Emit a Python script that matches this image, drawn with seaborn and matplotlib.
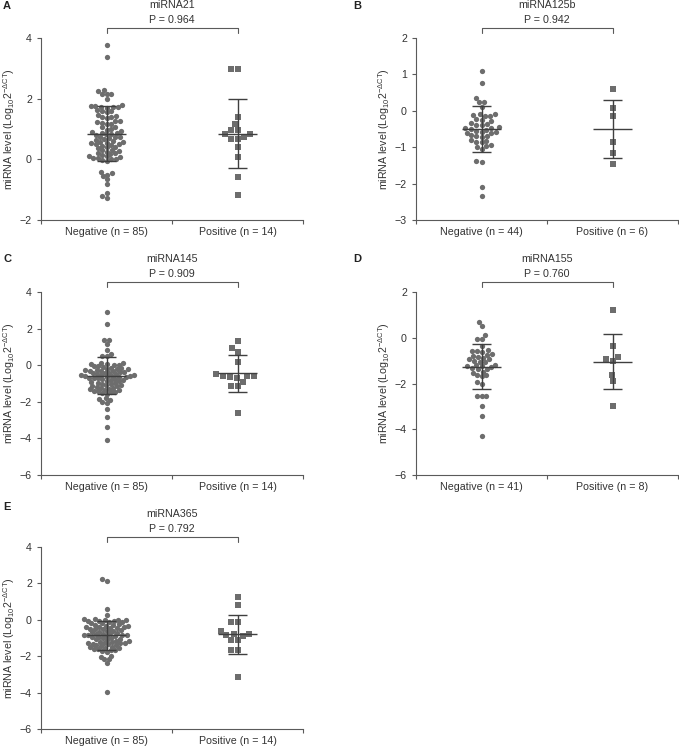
import numpy as np
import pandas as pd
import matplotlib
matplotlib.use("Agg")
import matplotlib.pyplot as plt
import matplotlib.transforms as mtransforms
import seaborn as sns

# ---- datos ----
paneles = ["A", "B", "C", "D", "E"]
titulos = ["miRNA21", "miRNA125b", "miRNA145", "miRNA155", "miRNA365"]
p_valores = ["P = 0.964", "P = 0.942", "P = 0.909", "P = 0.760", "P = 0.792"]
n_neg = [85, 44, 85, 41, 85]
n_pos = [14, 6, 14, 8, 14]
y_limites = [(-2, 4), (-3, 2), (-6, 4), (-6, 2), (-6, 4)]
y_pasos = [2, 1, 2, 2, 2]

a_neg = [3.78, 3.38, 2.28, 2.15, 2.0, 2.15, 2.15, 2.25,
         -0.44, -0.55, -0.65, -0.5, -0.42, -0.82, -1.1, -1.28, -1.22,
         1.78, 1.75, 1.72, 1.70, 1.74, 1.76, 1.71,
         1.62, 1.58, 1.55, 1.60,
         1.42, 1.38, 1.35, 1.40, 1.45,
         1.25, 1.20, 1.18, 1.22, 1.15, 1.28,
         1.05, 1.00, 0.98, 1.08,
         0.90, 0.85, 0.82, 0.88, 0.80, 0.92, 0.86,
         0.72, 0.68, 0.70, 0.75, 0.65, 0.73,
         0.58, 0.55, 0.52, 0.50, 0.56, 0.60, 0.53,
         0.45, 0.42, 0.40, 0.47, 0.38,
         0.30, 0.28, 0.25, 0.32, 0.22,
         0.18, 0.15, 0.12, 0.20, 0.10,
         0.05, 0.02, -0.02, 0.00, 0.04, -0.05, 0.07]
a_pos = [2.97, 2.97, 1.38, 1.16, 0.98, 0.96, 0.85, 0.82, 0.74, 0.68, 0.68,
         0.40, 0.07, -0.58, -1.18]

b_neg = [1.1, 0.77, 0.35, 0.23, 0.25, 0.11, -1.4, -1.37, -2.09, -2.34,
         -0.12, -0.10, -0.15, -0.13, -0.08,
         -0.22, -0.25, -0.28,
         -0.33, -0.36, -0.38, -0.40,
         -0.45, -0.48, -0.50, -0.52, -0.47, -0.55,
         -0.58, -0.60, -0.62, -0.57,
         -0.68, -0.70, -0.72, -0.66,
         -0.80, -0.85, -0.82, -0.87,
         -0.95, -0.97, -1.00, -1.05]
b_pos = [0.6, 0.08, -0.15, -0.85, -1.15, -1.46]

c_neg = [2.89, 2.27, 1.38, 1.16, 1.36, 0.81, 0.61, 0.52, 0.52,
         -1.85, -2.03, -2.05, -1.9, -1.8, -2.41, -2.81, -3.38, -4.07,
         0.12, 0.10, 0.07, 0.05, 0.02, 0.0,
         -0.04, -0.07, -0.10, -0.13, -0.16,
         -0.19, -0.22, -0.25, -0.28, -0.31, -0.33,
         -0.36, -0.39, -0.42, -0.45, -0.48,
         -0.50, -0.53, -0.56, -0.58, -0.61, -0.63,
         -0.66, -0.69, -0.72, -0.75, -0.78,
         -0.80, -0.83, -0.86, -0.89, -0.92,
         -0.95, -0.98, -1.01, -1.04, -1.07,
         -1.10, -1.13, -1.16, -1.19, -1.22,
         -1.25, -1.28, -1.31, -1.34, -1.37,
         -1.40, -1.43, -1.46, -1.49, -1.52, -1.55,
         -0.60, -0.55, -0.65, -0.70, -0.40, -0.30, -0.20]
c_pos = [1.30, 0.92, 0.70, 0.19, -0.48, -0.57, -0.57, -0.61, -0.66, -0.68,
         -0.9, -1.12, -1.15, -2.61]

d_neg = [0.71, 0.53, 0.12, -0.04, -0.04, -0.38,
         -2.53, -2.53, -2.53, -2.97, -3.41, -4.31, -2.0, -1.95,
         -0.55, -0.60, -0.58, -0.62,
         -0.72, -0.75, -0.78,
         -0.88, -0.92, -0.95, -0.85,
         -1.02, -1.08, -1.05,
         -1.18, -1.22, -1.25, -1.20,
         -1.32, -1.35, -1.30, -1.38,
         -1.48, -1.52,
         -1.65, -1.68, -1.62]
d_pos = [1.2, -0.36, -0.83, -0.93, -1.0, -1.62, -1.91, -2.99]

e_neg = [2.23, 2.14, 0.62, 0.26,
         -1.99, -2.17, -2.37, -2.17, -2.02, -3.99,
         0.05, 0.03, 0.01, -0.01, -0.03, -0.05, -0.07, -0.09, -0.11,
         -0.14, -0.17, -0.20, -0.23, -0.26, -0.29, -0.32, -0.35,
         -0.38, -0.40, -0.42, -0.44, -0.46, -0.48, -0.50, -0.53,
         -0.56, -0.59, -0.62, -0.65, -0.68, -0.71, -0.74,
         -0.77, -0.80, -0.82, -0.84, -0.86, -0.88, -0.90, -0.93,
         -0.96, -0.99, -1.02, -1.05, -1.08, -1.11, -1.14,
         -1.17, -1.20, -1.23, -1.26, -1.28, -1.30, -1.32, -1.35,
         -1.38, -1.41, -1.44, -1.47, -1.50, -1.53, -1.56,
         -1.59, -1.62, -1.65, -1.68, -1.71, -1.75, -0.85, -1.25]
e_pos = [1.23, 0.81, -0.14, -0.14, -0.62, -0.76, -0.8, -0.84, -0.89,
         -1.13, -1.13, -1.64, -1.64, -3.15]

media_neg = [0.85, -0.51, -0.57, -1.27, -0.85]
de_neg = [0.90, 0.63, 1.01, 0.98, 0.81]
media_pos = [0.85, -0.49, -0.45, -1.05, -0.80]
de_pos = [1.14, 0.80, 1.01, 1.20, 1.07]

valores_neg = [a_neg, b_neg, c_neg, d_neg, e_neg]
valores_pos = [a_pos, b_pos, c_pos, d_pos, e_pos]

# tamano usado para acomodar el enjambre (en Prism los puntos se solapan)
tam_enjambre = [3.2, 3.6, 3.0, 3.4, 3.0]
tam_enjambre_pos = 4.8
tam_circulo = 3.8
tam_cuadrado = 4.2

# ---- estilo ----
sns.set_style("ticks")
plt.rcParams['font.family'] = ['Liberation Sans', 'DejaVu Sans']
plt.rcParams['mathtext.fontset'] = 'custom'
plt.rcParams['mathtext.rm'] = 'Liberation Sans'
plt.rcParams['mathtext.it'] = 'Liberation Sans:italic'

color_punto = "#6d6d6d"
color_linea = "#3f3f3f"
color_eje = "#5a5a5a"
color_texto = "#333333"
fs = 7.7

W, H = 679, 748
fig = plt.figure(figsize=(W / 100, H / 100), dpi=100)

# cajas de ejes en pixeles (izq, arriba, ancho, alto)
cajas = [(41, 38, 262, 182), (416, 38, 262, 182),
         (41, 292, 262, 183), (416, 292, 262, 183),
         (41, 547, 262, 182)]
letras_pos = [(3, 6), (353, 6), (3, 259), (353, 259), (3, 507)]

enjambres = []  # (coleccion, tamano final)

for i in range(5):
    l, t, w, h = cajas[i]
    ax = fig.add_axes([l / W, 1 - (t + h) / H, w / W, h / H])
    lab_neg = f"Negative (n = {n_neg[i]})"
    lab_pos = f"Positive (n = {n_pos[i]})"
    orden = [lab_neg, lab_pos]
    df_neg = pd.DataFrame({"grupo": lab_neg, "valor": valores_neg[i]})
    df_pos = pd.DataFrame({"grupo": lab_pos, "valor": valores_pos[i]})

    n0 = len(ax.collections)
    sns.swarmplot(data=df_neg, x="grupo", y="valor", order=orden, color=color_punto,
                  marker="o", size=tam_enjambre[i], linewidth=0, ax=ax, warn_thresh=1)
    enjambres += [(c, tam_circulo) for c in ax.collections[n0:] if len(c.get_offsets())]
    n0 = len(ax.collections)
    sns.swarmplot(data=df_pos, x="grupo", y="valor", order=orden, color=color_punto,
                  marker="s", size=tam_enjambre_pos, linewidth=0, ax=ax, warn_thresh=1)
    enjambres += [(c, tam_cuadrado) for c in ax.collections[n0:] if len(c.get_offsets())]

    # media +/- DE
    for x, m, s in [(0, media_neg[i], de_neg[i]), (1, media_pos[i], de_pos[i])]:
        ax.hlines(m, x - 0.15, x + 0.15, color=color_linea, lw=1.0, zorder=5)
        ax.vlines(x, m - s, m + s, color=color_linea, lw=1.0, zorder=5)
        ax.hlines([m - s, m + s], x - 0.076, x + 0.076, color=color_linea, lw=1.0, zorder=5)

    ax.set_xlim(-0.5, 1.5)
    ax.set_ylim(*y_limites[i])
    ax.set_yticks(np.arange(y_limites[i][0], y_limites[i][1] + 0.01, y_pasos[i]))
    ax.set_xticks([-0.5, 0.5, 1.5])
    ax.set_xticklabels([])
    ax.set_xticks([0, 1], minor=True)
    ax.set_xticklabels(orden, minor=True)
    ax.tick_params(axis="x", which="minor", length=0, pad=5, labelsize=fs, labelcolor=color_texto)
    ax.tick_params(axis="both", which="major", length=3, width=0.8, color=color_eje,
                   labelsize=fs, labelcolor=color_texto, direction="out")
    ax.set_xlabel("")
    ax.set_ylabel(r"miRNA level (Log$_{\mathregular{10}}$2$^{\mathregular{-\Delta CT}}$)",
                  fontsize=fs, color=color_texto)
    ax.yaxis.set_label_coords(-0.092, 0.5)
    sns.despine(ax=ax)
    for lado in ["left", "bottom"]:
        ax.spines[lado].set_color(color_eje)
        ax.spines[lado].set_linewidth(0.8)

    # corchete y textos superiores
    trans = mtransforms.blended_transform_factory(ax.transData, ax.transAxes)
    ax.plot([0, 0, 1, 1], [1.028, 1.056, 1.056, 1.028], color=color_eje, lw=0.8,
            transform=trans, clip_on=False)
    ax.text(0.5, 1.10, p_valores[i], transform=ax.transAxes, ha="center", va="center",
            fontsize=fs, color=color_texto)
    ax.text(0.5, 1.183, titulos[i], transform=ax.transAxes, ha="center", va="center",
            fontsize=fs, color=color_texto)

    fx, fy = letras_pos[i]
    fig.text(fx / W, 1 - fy / H, paneles[i], ha="left", va="center", fontsize=8,
             fontweight="bold", color="#222222")

# primero se acomodan los enjambres con el tamano compacto,
# luego se fijan las posiciones y se agrandan los marcadores (se solapan como en Prism)
fig.canvas.draw()
for col, tam in enjambres:
    if "draw" in col.__dict__:
        del col.draw
    col.set_sizes([tam ** 2])

plt.savefig("out.png", dpi=100)
plt.close()
